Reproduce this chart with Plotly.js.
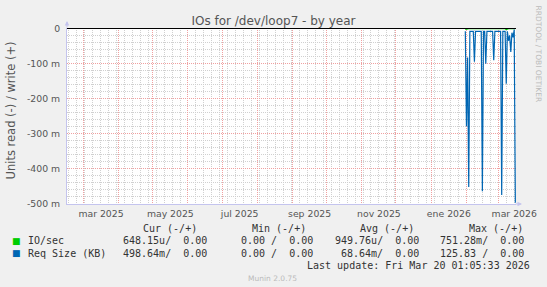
<!DOCTYPE html>
<html>
<head>
<meta charset="utf-8">
<script src="https://cdn.plot.ly/plotly-3.0.1.min.js"></script>
<style>
  html, body { margin: 0; padding: 0; background: #F0F0F0; }
  #chart { width: 547px; height: 287px; }
</style>
</head>
<body>
<div id="chart"></div>
<script>
// ---- data (values in milli-units, read side shown negative) ----
const dayDates = [
  '2026-01-31','2026-02-01','2026-02-02','2026-02-03','2026-02-04','2026-02-05','2026-02-06',
  '2026-02-07','2026-02-08','2026-02-09','2026-02-10','2026-02-11','2026-02-12','2026-02-13',
  '2026-02-14','2026-02-15','2026-02-16','2026-02-17','2026-02-18','2026-02-19','2026-02-20',
  '2026-02-21','2026-02-22','2026-02-23','2026-02-24','2026-02-25','2026-02-26','2026-02-27',
  '2026-02-28','2026-03-01','2026-03-02','2026-03-03','2026-03-04','2026-03-05','2026-03-06',
  '2026-03-07','2026-03-08','2026-03-09','2026-03-10','2026-03-11','2026-03-12','2026-03-13',
  '2026-03-14','2026-03-15','2026-03-16'
];
const reqSizeRead = [
  -8, -279, -83, -453, -8, -8, -8,
  -8, -95, -8, -8, -8, -8, -8,
  -8, -465, -8, -8, -101, -8, -8,
  -8, -8, -8, -8, -91, -8, -8,
  -8, -8, -8, -8, -476, -8, -8,
  -8, -158, -8, -35, -20, -67, -12,
  -25, -3, -498
];
const ioSecRead = [
  -3, -3, -1, -0.6, -0.6, -0.6, -0.6,
  -0.6, -0.6, -0.6, -0.6, -0.6, -0.6, -0.6,
  -0.6, -0.6, -0.6, -0.6, -0.6, -0.6, -0.6,
  -0.6, -0.6, -0.6, -0.6, -0.6, -0.6, -0.6,
  -0.6, -0.6, -0.6, -0.6, -0.6, -0.6, -0.6,
  -0.6, -3, -0.6, -0.6, -0.6, -0.6, -0.6,
  -0.6, -0.6, -0.6
];

const xRange = ['2025-02-14 14:00', '2026-03-16 14:00'];
const shortMonthsEs = ['ene','feb','mar','abr','may','jun','jul','ago','sep','oct','nov','dic'];
const monthsEs = ['enero','febrero','marzo','abril','mayo','junio','julio','agosto','septiembre','octubre','noviembre','diciembre'];
// month labels that rrdtool leaves blank (labels only every second month)
const hiddenMonthLabels = ['feb 2025','abr 2025','jun 2025','ago 2025','oct 2025','dic 2025','feb 2026'];
const yTickVals = [0, -100, -200, -300, -400, -500];
const yTickText = ['0', '-100 m', '-200 m', '-300 m', '-400 m', '-500 m'];

const seriesNames = ['IO/sec', 'Req Size (KB)'];
const seriesColors = ['#00CC00', '#0066B3'];
const legendHeaders = ['Cur (-/+)', 'Min (-/+)', 'Avg (-/+)', 'Max (-/+)'];
const ioSecStats = ['648.15u/  0.00', '0.00 /  0.00', '949.76u/  0.00', '751.28m/  0.00'];
const reqSizeStats = ['498.64m/  0.00', '0.00 /  0.00', '68.64m/  0.00', '125.83 /  0.00'];
const lastUpdate = 'Last update: Fri Mar 20 01:05:33 2026';

Plotly.register({
  moduleType: 'locale', name: 'es-rrd', dictionary: {},
  format: { months: monthsEs, shortMonths: shortMonthsEs,
    days: ['domingo','lunes','martes','miércoles','jueves','viernes','sábado'],
    shortDays: ['dom','lun','mar','mié','jue','vie','sáb'] }
});

// ---- minor grid positions (weekly / every 20 m) ----
const weekTicks = [];
for (let t = Date.UTC(2025, 1, 16); t < Date.UTC(2026, 2, 20); t += 7 * 86400000) {
  weekTicks.push(new Date(t).toISOString().slice(0, 10));
}
const yMinorTicks = [];
for (let v = -480; v < 0; v += 20) if (v % 100 !== 0) yMinorTicks.push(v);
const labelAlias = {};
hiddenMonthLabels.forEach(l => { labelAlias[l] = ' '; });

// ---- layout helpers ----
// plot box 67..516 x 28..204; value 0 sits at y=28.5 and -500 at y=203.5 (0.35 px per m)
const L = 67, R = 516, T = 28, B = 204;
const pad = 0.5 / 0.35;
const yRange = [-500 - pad, pad];
const W = R - L, H = B - T;
const px = x => (x - L) / W;
const py = y => (B - y) / H;
const nb = s => s.replace(/ /g, '\u00a0');

const mono = { family: 'DejaVu Sans Mono', size: 10, color: '#333' };
const ann = [];

ann.push({ text: 'Units read (-) / write (+)', xref: 'paper', yref: 'paper',
  x: px(10.5), y: py(110), textangle: -90, showarrow: false,
  xanchor: 'center', yanchor: 'middle',
  font: { family: 'DejaVu Sans', size: 11.5, color: '#555' } });
ann.push({ text: 'RRDTOOL / TOBI OETIKER', xref: 'paper', yref: 'paper',
  x: px(538.5), y: py(54), textangle: 90, showarrow: false,
  xanchor: 'center', yanchor: 'middle',
  font: { family: 'DejaVu Sans', size: 7.5, color: '#bbb' } });
ann.push({ text: '', xref: 'paper', yref: 'paper', x: 0, y: py(21), ax: 0, ay: 8,
  showarrow: true, arrowhead: 2, arrowsize: 0.9, arrowwidth: 1, arrowcolor: '#c4c4ee', standoff: 0 });
ann.push({ text: '', xref: 'paper', yref: 'paper', x: px(522), y: 0, ax: -8, ay: 0,
  showarrow: true, arrowhead: 2, arrowsize: 0.9, arrowwidth: 1, arrowcolor: '#c4c4ee', standoff: 0 });

const headerEnds = [199.3, 308.4, 416.4, 525.4];
const valueEnds = [209, 314.6, 420.6, 526.1];
const rowY = [228.5, 240.8, 253.2];
legendHeaders.forEach((h, i) => ann.push({ text: nb(h), xref: 'paper', yref: 'paper',
  x: px(headerEnds[i]), y: py(rowY[0]), xanchor: 'right', yanchor: 'middle', showarrow: false, font: mono }));
[ioSecStats, reqSizeStats].forEach((stats, r) => {
  ann.push({ text: '■', xref: 'paper', yref: 'paper', x: px(16), y: py(rowY[r + 1]),
    xanchor: 'center', yanchor: 'middle', showarrow: false,
    font: { family: 'DejaVu Sans', size: 9, color: seriesColors[r] } });
  ann.push({ text: nb(seriesNames[r]), xref: 'paper', yref: 'paper', x: px(26), y: py(rowY[r + 1]),
    xanchor: 'left', yanchor: 'middle', showarrow: false, font: mono });
  stats.forEach((s, i) => ann.push({ text: nb(s), xref: 'paper', yref: 'paper',
    x: px(valueEnds[i]), y: py(rowY[r + 1]), xanchor: 'right', yanchor: 'middle', showarrow: false, font: mono }));
});
ann.push({ text: nb(lastUpdate), xref: 'paper', yref: 'paper', x: px(532.4), y: py(265.6),
  xanchor: 'right', yanchor: 'middle', showarrow: false, font: mono });
ann.push({ text: 'Munin 2.0.75', xref: 'paper', yref: 'paper', x: px(272.6), y: py(278.5),
  xanchor: 'center', yanchor: 'middle', showarrow: false,
  font: { family: 'DejaVu Sans', size: 7.5, color: '#bbb' } });

const traces = [
  { x: dayDates, y: ioSecRead, type: 'scatter', mode: 'lines',
    line: { color: seriesColors[0], width: 1.2 }, name: seriesNames[0], hoverinfo: 'skip' },
  { x: dayDates, y: reqSizeRead, type: 'scatter', mode: 'lines',
    line: { color: seriesColors[1], width: 1.2 }, name: seriesNames[1], hoverinfo: 'skip' }
];

const gray = '#d0d0d0', red = '#f0a0a0', dash = '1px,1px';
const tickFont = { family: 'DejaVu Sans', size: 9.3, color: '#555' };
const layout = {
  width: 547, height: 287,
  margin: { l: L, r: 547 - R, t: T, b: 287 - B, pad: 0 },
  paper_bgcolor: '#F0F0F0', plot_bgcolor: '#FFFFFF',
  showlegend: false,
  font: { family: 'DejaVu Sans', color: '#555' },
  title: { text: 'IOs for /dev/loop7 - by year', font: { family: 'DejaVu Sans', size: 12, color: '#555' },
    xref: 'container', yref: 'container', x: 0.5, xanchor: 'center', y: 1 - 21 / 287, yanchor: 'middle' },
  xaxis: {
    type: 'date', range: xRange, tickmode: 'linear', tick0: '2025-01-01', dtick: 'M1',
    tickformat: '%b %Y', ticklabelmode: 'period', labelalias: labelAlias,
    ticks: '', ticklabelstandoff: 1, tickfont: tickFont,
    showgrid: true, gridcolor: red, griddash: dash, gridwidth: 1, zeroline: false,
    showline: true, linecolor: '#c4c4ee', linewidth: 1,
    minor: { tickmode: 'array', tickvals: weekTicks, showgrid: true,
      gridcolor: gray, griddash: dash, gridwidth: 1, ticks: '' }
  },
  yaxis: {
    range: yRange, tickmode: 'array', tickvals: yTickVals, ticktext: yTickText,
    ticks: '', ticklabelstandoff: 4,
    showgrid: true, gridcolor: red, griddash: dash, gridwidth: 1,
    zeroline: true, zerolinecolor: '#000000', zerolinewidth: 1, zerolinelayer: 'above traces',
    showline: true, linecolor: '#c4c4ee', linewidth: 1,
    tickfont: tickFont,
    minor: { tickmode: 'array', tickvals: yMinorTicks, showgrid: true,
      gridcolor: gray, griddash: dash, gridwidth: 1, ticks: '' }
  },
  annotations: ann
};

Plotly.newPlot('chart', traces, layout, { displayModeBar: false, staticPlot: true, locale: 'es-rrd' });
</script>
</body>
</html>
